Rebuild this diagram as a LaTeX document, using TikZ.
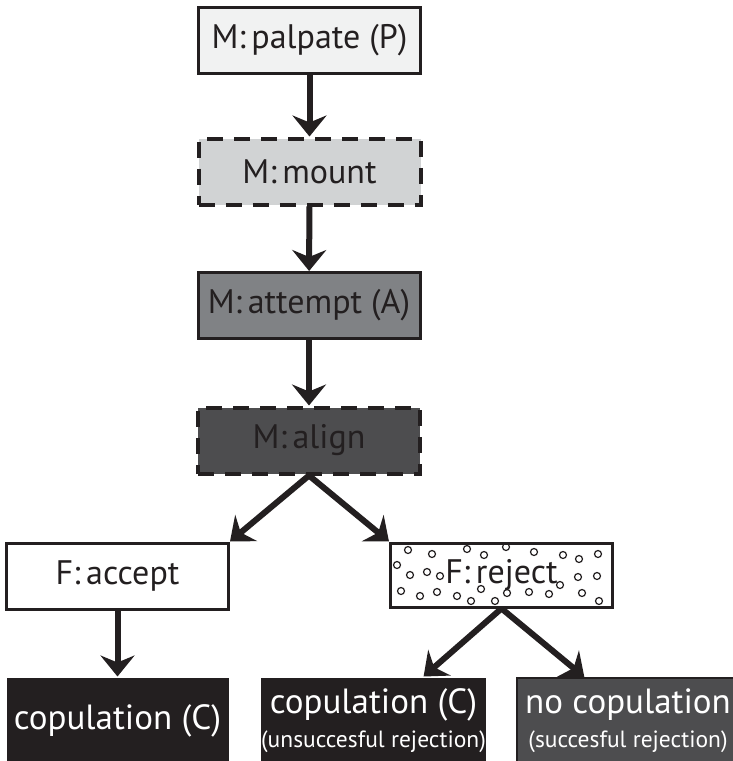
\documentclass[tikz,border=0pt]{standalone}
\usepackage{fontspec}
\setmainfont{PT Sans}
\usetikzlibrary{arrows.meta,calc}

\definecolor{ink}{HTML}{231F20}
\definecolor{palegray}{HTML}{F1F2F2}
\definecolor{lightgray}{HTML}{D1D3D4}
\definecolor{midgray}{HTML}{808285}
\definecolor{darkgray}{HTML}{4D4D4F}
\newcommand\subsize{\fontsize{23.5}{28}\selectfont}

\begin{document}
\begin{tikzpicture}[
x=1pt, y=-1pt,
font=\fontsize{34}{40}\selectfont,
box/.style={draw=ink, line width=3pt, minimum width=222pt, minimum height=66pt, inner sep=0pt, text=ink},
dashbox/.style={box, line width=4pt, dash pattern=on 16pt off 11pt},
endbox/.style={box, draw=none, fill=ink, text=white, minimum height=86pt, align=center, font=\fontsize{35}{40}\selectfont},
arr/.style={draw=ink, line width=6pt, -{Stealth[length=21pt,width=34pt,inset=7pt]}},
bubble/.style={draw=ink, line width=1.2pt},
]

\useasboundingbox (0,0) rectangle (733,761);

% male steps
\node[box, fill=palegray] (palpate) at (309.5,40) {M:\,palpate (P)};
\node[dashbox, fill=lightgray] (mount) at (309.5,171.5) {M:\,mount};
\node[box, fill=midgray] (attempt) at (309,305.5) {M:\,attempt (A)};
\node[dashbox, fill=darkgray] (align) at (309,440.5) {M:\,align};

% female response
\node[box, fill=white] (accept) at (117.5,576) {F:\,accept};
\node[box, fill=white, minimum height=64pt] (reject) at (501.5,575) {};
\foreach \cx/\cy in {408/550,432/554,467/549,484/555,506/547,534/552,563/555,579/559,598/554,
  397/565,410/575,427/572,440/576,560/585,578/577,597/576,
  401/591,420/596,437/592,457/596,471/601,481/589,495/601,507/593,529/592,549/594,582/593,599/601}
  \draw[bubble] (\cx,\cy) circle (3.5pt);
\node[text=ink] (rejecttext) at (reject.center) {F:\,reject};

% outcomes
\node[endbox] (copC) at (117.5,721) {copulation (C)};
\node[endbox] (copCrej) at (373.5,721) {copulation (C)\\[-6pt]{\subsize (unsuccesful rejection)}};
\node[endbox, fill=darkgray, draw=ink, line width=2pt] (nocop) at (628,721) {no copulation\\[-6pt]{\subsize (succesful rejection)}};

\draw[arr] (palpate) -- (mount);
\draw[arr] (mount) -- (attempt);
\draw[arr] (attempt) -- (align);
\draw[arr] (align.south) -- (accept.north east);
\draw[arr] (align.south) -- (reject.north west);
\draw[arr] (accept) -- (copC);
\draw[arr] (reject.south) -- ($(copCrej.north)!0.44!(copCrej.north east)$);
\draw[arr] (reject.south) -- ($(nocop.north)!0.39!(nocop.north west)$);

\end{tikzpicture}
\end{document}
